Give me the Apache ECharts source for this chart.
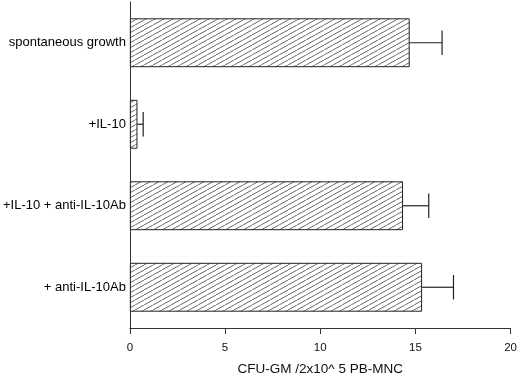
<!DOCTYPE html>
<html>
<head>
<meta charset="utf-8">
<script src="https://cdn.jsdelivr.net/npm/echarts@6/dist/echarts.min.js"></script>
<style>
    html, body { margin: 0; padding: 0; background: #fff; }
    #chart { width: 520px; height: 381px; }
</style>
</head>
<body>
<div id="chart"></div>
<script>
    var categories = ['spontaneous growth', '+IL-10', '+IL-10 + anti-IL-10Ab', '+ anti-IL-10Ab']
    var meanValues = [14.7, 0.4, 14.35, 15.35]
    var errValues = [1.7, 0.3, 1.35, 1.65]
    var xTicks = [0, 5, 10, 15, 20]
    var axisTitle = 'CFU-GM /2x10^ 5 PB-MNC'

    // hatch tile for the bars
    function makeHatch() {
        var w = 9, h = 5
        var c = document.createElement('canvas')
        c.width = w
        c.height = h
        var ctx = c.getContext('2d')
        ctx.fillStyle = '#fff'
        ctx.fillRect(0, 0, w, h)
        ctx.strokeStyle = '#555'
        ctx.lineWidth = 0.9
        ctx.beginPath()
        for (var k = -1; k <= 1; k++) {
            ctx.moveTo(k * w, h)
            ctx.lineTo(k * w + w, 0)
        }
        ctx.stroke()
        return c
    }

    var errData = meanValues.map(function (v, i) {
        return [v, i, v + errValues[i]]
    })

    var myChart = echarts.init(document.getElementById('chart'))
    var option = {
        animation: false,
        textStyle: { fontFamily: 'Liberation Sans, Arial, sans-serif' },
        grid: { left: 129, right: 8, top: 2, bottom: 48 },
        xAxis: {
            type: 'value',
            min: xTicks[0],
            max: xTicks[xTicks.length - 1],
            interval: 5,
            name: axisTitle,
            nameLocation: 'middle',
            nameGap: 34,
            nameTextStyle: { color: '#111', fontSize: 13.5, verticalAlign: 'top' },
            axisLine: { show: true, lineStyle: { color: '#333', width: 1 } },
            axisTick: { show: true, length: 6, lineStyle: { color: '#333' } },
            axisLabel: { color: '#111', fontSize: 11.5, margin: 14 },
            splitLine: { show: false }
        },
        yAxis: {
            type: 'category',
            data: categories,
            inverse: true,
            axisLine: { show: true, lineStyle: { color: '#333', width: 1 } },
            axisTick: { show: false },
            axisLabel: { color: '#000', fontSize: 13, margin: 4 },
            splitLine: { show: false }
        },
        series: [
            {
                type: 'bar',
                data: meanValues,
                barCategoryGap: '40%',
                itemStyle: {
                    color: { image: makeHatch(), repeat: 'repeat' },
                    borderColor: '#222',
                    borderWidth: 1
                }
            },
            {
                type: 'custom',
                data: errData,
                encode: { x: [0, 2], y: 1 },
                z: 3,
                renderItem: function (params, api) {
                    var start = api.coord([api.value(0), api.value(1)])
                    var end = api.coord([api.value(2), api.value(1)])
                    var half = api.size([0, 1])[1] * 0.15
                    var style = { stroke: '#222', lineWidth: 1.2 }
                    return {
                        type: 'group',
                        children: [
                            { type: 'line', shape: { x1: start[0], y1: start[1], x2: end[0], y2: end[1] }, style: style },
                            { type: 'line', shape: { x1: end[0], y1: end[1] - half, x2: end[0], y2: end[1] + half }, style: style }
                        ]
                    }
                }
            }
        ]
    }
    myChart.setOption(option)
</script>
</body>
</html>
